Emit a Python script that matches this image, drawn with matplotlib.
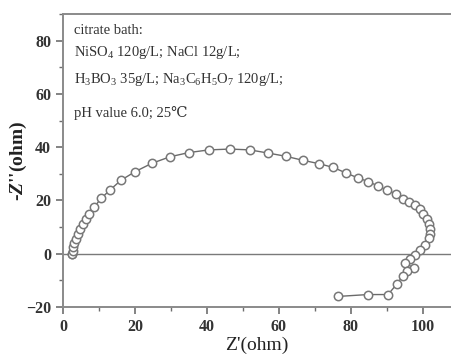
import matplotlib
matplotlib.use("Agg")
import matplotlib.pyplot as plt
from matplotlib.ticker import MultipleLocator

plt.rcParams['font.family'] = ['Liberation Serif', 'DejaVu Serif']
plt.rcParams['mathtext.fontset'] = 'custom'
plt.rcParams['mathtext.rm'] = 'Liberation Serif'
plt.rcParams['mathtext.it'] = 'Liberation Serif:italic:bold'
plt.rcParams['mathtext.bf'] = 'Liberation Serif:bold'

z_real = [2.5, 2.6, 2.7, 2.9, 3.1, 3.6, 4.1, 4.7, 5.5, 6.3, 7.3, 8.7, 10.6, 13.1, 16.1,
          20.0, 24.6, 29.7, 35.0, 40.6, 46.4, 51.9, 57.0, 61.9, 66.6, 71.2, 75.1, 78.5,
          81.9, 84.8, 87.6, 90.1, 92.5, 94.4, 96.2, 97.8, 99.2, 100.1, 101.0, 101.8,
          102.1, 102.0, 101.8, 100.6, 99.2, 97.8, 96.4, 95.0, 97.6, 95.7, 94.4, 92.8,
          90.3, 84.7, 76.5]
z_imag = [0.0, 0.1, 1.1, 2.4, 3.9, 5.5, 7.4, 9.2, 11.1, 13.0, 15.1, 17.6, 20.8, 24.0, 27.6,
          30.8, 33.9, 36.4, 38.0, 39.0, 39.3, 39.0, 37.8, 36.6, 35.1, 33.8, 32.4, 30.4,
          28.5, 27.1, 25.4, 23.8, 22.5, 20.7, 19.6, 18.3, 16.7, 14.8, 13.0, 11.1,
          9.2, 7.6, 5.9, 3.4, 1.4, -0.4, -2.0, -3.6, -5.3, -6.4, -8.3, -11.3,
          -15.3, -15.3, -16.0]

notes = ["citrate bath:",
         r"NiSO$_4$ 120g/L; NaCl 12g/L;",
         r"H$_3$BO$_3$ 35g/L; Na$_3$C$_6$H$_5$O$_7$ 120g/L;",
         "pH value 6.0; 25℃"]

fig = plt.figure(figsize=(4.51, 3.55), dpi=100)
ax = fig.add_axes([0.1397, 0.135, 0.8603, 0.8256])

gray = '#6e6e6e'
ax.axhline(0, color='#7a7a7a', lw=1.0, zorder=1)
ax.plot(z_real, z_imag, '-', color='#6a6a6a', lw=1.0, marker='o', ms=6.0,
        mfc='white', mec='#777777', mew=1.1, zorder=3)

ax.set_xlim(0, 107.8)
ax.set_ylim(-20, 90)
ax.xaxis.set_major_locator(MultipleLocator(20))
ax.xaxis.set_minor_locator(MultipleLocator(10))
ax.yaxis.set_major_locator(MultipleLocator(20))
ax.yaxis.set_minor_locator(MultipleLocator(10))
ax.tick_params(which='both', direction='out', colors=gray, labelcolor='#333333',
               top=False, right=False)
ax.tick_params(which='major', length=5, width=1.2, labelsize=11.5)
ax.tick_params(which='minor', length=3, width=1.0)
for lab in ax.get_xticklabels() + ax.get_yticklabels():
    lab.set_fontweight('bold')

for s in ['left', 'bottom', 'top']:
    ax.spines[s].set_color('#8a8a8a')
    ax.spines[s].set_linewidth(1.4)
ax.spines['right'].set_visible(False)

ax.set_xlabel("Z'(ohm)", fontsize=14, color='#222222', labelpad=1)
ax.set_ylabel(r"-$\mathit{Z}$''(ohm)", fontsize=14, color='#222222',
              fontweight='bold')
ax.yaxis.set_label_coords(-0.088, 0.5)

ys = [0.945, 0.867, 0.775, 0.663]
for t, yy in zip(notes, ys):
    ax.text(0.028, yy, t, transform=ax.transAxes, fontsize=10.5, color='#333333',
            va='center', ha='left')

fig.savefig('out.png', dpi=100)
